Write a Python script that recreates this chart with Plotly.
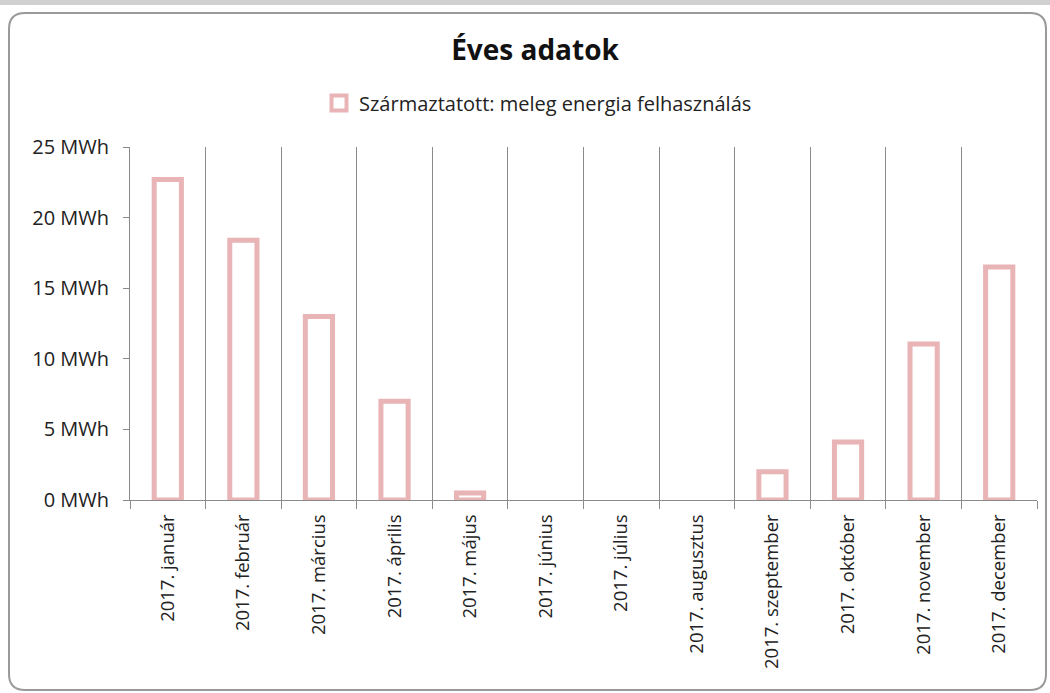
import plotly.graph_objects as go

categories = ["2017. január", "2017. február", "2017. március", "2017. április",
              "2017. május", "2017. június", "2017. július", "2017. augusztus",
              "2017. szeptember", "2017. október", "2017. november", "2017. december"]
values = [22.7, 18.4, 13.0, 7.0, 0.5, 0, 0, 0, 2.0, 4.1, 11.05, 16.5]
series_name = "Származtatott: meleg energia felhasználás"
y_ticks = [0, 5, 10, 15, 20, 25]
y_ticklabels = [f"{v} MWh" for v in y_ticks]

W, H = 1050, 693
L, R, T, B = 130, 13, 147, 193
pw, ph = W - L - R, H - T - B

def px_x(x):
    return (x - L) / pw

def px_y(y):
    return (H - B - y) / ph

pink = "#e8b4b6"
FONT = "Open Sans"

fig = go.Figure()
fig.add_trace(go.Bar(
    x=categories, y=values,
    name=series_name,
    marker=dict(color="white",
                line=dict(color=pink, width=[5 if v > 0 else 0 for v in values])),
    width=0.36,
    showlegend=False,
))
# legend entry
fig.add_trace(go.Scatter(
    x=[None], y=[None], mode="markers", name=series_name,
    marker=dict(symbol="square", size=15, color="white", line=dict(color=pink, width=4)),
    showlegend=True,
))

# rounded frame
x0, x1 = px_x(9), px_x(1046)
y0, y1 = px_y(13), px_y(690)
rx, ry = 16 / pw, 16 / ph
path = (f"M {x0+rx},{y0} L {x1-rx},{y0} Q {x1},{y0} {x1},{y0-ry} "
        f"L {x1},{y1+ry} Q {x1},{y1} {x1-rx},{y1} L {x0+rx},{y1} "
        f"Q {x0},{y1} {x0},{y1+ry} L {x0},{y0-ry} Q {x0},{y0} {x0+rx},{y0} Z")
fig.add_shape(type="path", path=path, xref="paper", yref="paper",
              line=dict(color="#9a9a9a", width=2), layer="below")
# top shadow band
fig.add_shape(type="rect", xref="paper", yref="paper",
              x0=px_x(0), x1=px_x(1050), y0=px_y(0), y1=px_y(5),
              fillcolor="#d0d0d0", line=dict(width=0), layer="below")

fig.update_layout(
    width=W, height=H,
    margin=dict(l=L, r=R, t=T, b=B),
    paper_bgcolor="white", plot_bgcolor="white",
    font=dict(family=FONT, color="#222222", size=18),
    title=dict(text="<b>Éves adatok</b>", x=535 / W, xref="container", xanchor="center",
               y=1 - 50 / H, yanchor="middle",
               font=dict(family=FONT, size=28, color="#111111")),
    legend=dict(orientation="h", x=px_x(538), xanchor="center", xref="paper",
                y=px_y(103), yanchor="middle", font=dict(size=20, color="#222222"),
                bgcolor="rgba(0,0,0,0)", itemwidth=30),
    bargap=0.6,
)
fig.update_xaxes(
    type="category", tickson="boundaries", showgrid=True, gridcolor="#8a8a8a", gridwidth=1,
    showline=True, linecolor="#8a8a8a", linewidth=1,
    ticks="outside", ticklen=8, tickcolor="#8a8a8a", ticklabelstandoff=6,
    tickangle=-90, tickfont=dict(size=18.5, color="#222222"),
)
fig.update_yaxes(
    range=[0, 25], tickvals=y_ticks, ticktext=y_ticklabels,
    showgrid=False, showline=True, linecolor="#8a8a8a", linewidth=1,
    ticks="outside", ticklen=6, tickcolor="#8a8a8a", ticklabelstandoff=10,
    tickfont=dict(size=20, color="#222222"), zeroline=False,
)

fig.write_html("out.html", config={"displayModeBar": False},
               post_script="document.body.style.margin='0';")
